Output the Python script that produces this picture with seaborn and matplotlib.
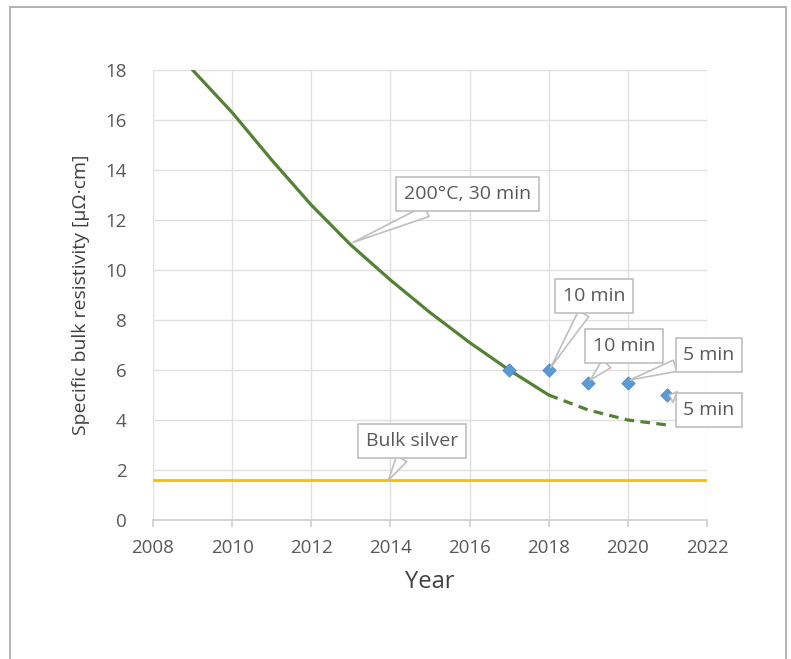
import matplotlib
matplotlib.use("Agg")
import matplotlib.pyplot as plt
from matplotlib.patches import Rectangle
import seaborn as sns
import pandas as pd

# Data
curve_years = [2009, 2010, 2011, 2012, 2013, 2014, 2015, 2016, 2017, 2018]
curve_vals = [18.0, 16.3, 14.4, 12.6, 11.0, 9.6, 8.3, 7.1, 6.0, 5.0]
proj_years = [2018, 2019, 2020, 2021]
proj_vals = [5.0, 4.4, 4.0, 3.8]
pt_years = [2017, 2018, 2019, 2020, 2021]
pt_vals = [6.0, 6.0, 5.5, 5.5, 5.0]
silver_years = [2008, 2022]
silver_vals = [1.59, 1.59]
xticks = [2008, 2010, 2012, 2014, 2016, 2018, 2020, 2022]
yticks = [0, 2, 4, 6, 8, 10, 12, 14, 16, 18]

sns.set_theme(style="white")
plt.rcParams['font.family'] = ['Open Sans', 'DejaVu Sans']

fig = plt.figure(figsize=(7.91, 6.59), dpi=100)
ax = fig.add_axes([153/791, (659-520)/659, 554/791, 450/659])

df_curve = pd.DataFrame({"year": curve_years, "val": curve_vals})
df_proj = pd.DataFrame({"year": proj_years, "val": proj_vals})
df_pts = pd.DataFrame({"year": pt_years, "val": pt_vals})
df_silver = pd.DataFrame({"year": silver_years, "val": silver_vals})

green = "#548235"
sns.lineplot(data=df_silver, x="year", y="val", ax=ax, color="#f5c000", lw=2, zorder=3)
sns.lineplot(data=df_curve, x="year", y="val", ax=ax, color=green, lw=2.3, zorder=3)
sns.lineplot(data=df_proj, x="year", y="val", ax=ax, color=green, lw=2.3,
             linestyle=(0, (3, 2)), zorder=3)
sns.scatterplot(data=df_pts, x="year", y="val", ax=ax, marker="D", s=45,
                color="#5b9bd5", edgecolor="#4a86c0", linewidth=0.6, zorder=4)

ax.set_xlim(2008, 2022)
ax.set_ylim(0, 18)
ax.set_xticks(xticks)
ax.set_yticks(yticks)
ax.grid(True, color="#e0e0e0", lw=1)
for s in ["top", "right", "left"]:
    ax.spines[s].set_visible(False)
ax.spines["bottom"].set_color("#d0d0d0")
ax.tick_params(axis="x", bottom=True, length=5, color="#d0d0d0", labelsize=13.5,
               labelcolor="#595959", pad=9)
ax.tick_params(axis="y", left=False, labelsize=13.5, labelcolor="#595959", pad=13)
ax.set_xlabel("Year", fontsize=17, color="#404040", labelpad=9)
ax.set_ylabel("Specific bulk resistivity [µΩ·cm]", fontsize=14, color="#404040",
              labelpad=11)

def callout(text, xy, xytext, ha="center"):
    ann = ax.annotate(text, xy=xy, xytext=xytext, textcoords="data", fontsize=14,
                      color="#595959", ha=ha, va="center", zorder=6,
                      annotation_clip=False,
                      bbox=dict(boxstyle="square,pad=0.4", fc="white", ec="#bfbfbf", lw=1.2),
                      arrowprops=dict(arrowstyle="wedge,tail_width=0.6,shrink_factor=0.5",
                                      fc="white", ec="#bfbfbf", lw=1.2,
                                      shrinkA=0, shrinkB=0))
    ann.set_clip_on(False)
    ann.get_bbox_patch().set_clip_on(False)
    if ann.arrow_patch is not None:
        ann.arrow_patch.set_clip_on(False)

callout("200°C, 30 min", (2013.05, 11.1), (2015.95, 13.05))
callout("10 min", (2018.05, 6.1), (2019.15, 8.95))
callout("10 min", (2019.05, 5.6), (2019.9, 6.95))
callout("5 min", (2020.05, 5.6), (2022.05, 6.6))
callout("5 min", (2021.05, 5.0), (2022.05, 4.4))
callout("Bulk silver", (2013.95, 1.59), (2014.55, 3.15))

fig.add_artist(Rectangle((10/791, -0.01), 776/791, 1 - 7/659 + 0.01,
                         transform=fig.transFigure, fill=False, ec="#a6a6a6", lw=1.2))

fig.savefig("out.png", dpi=100)
